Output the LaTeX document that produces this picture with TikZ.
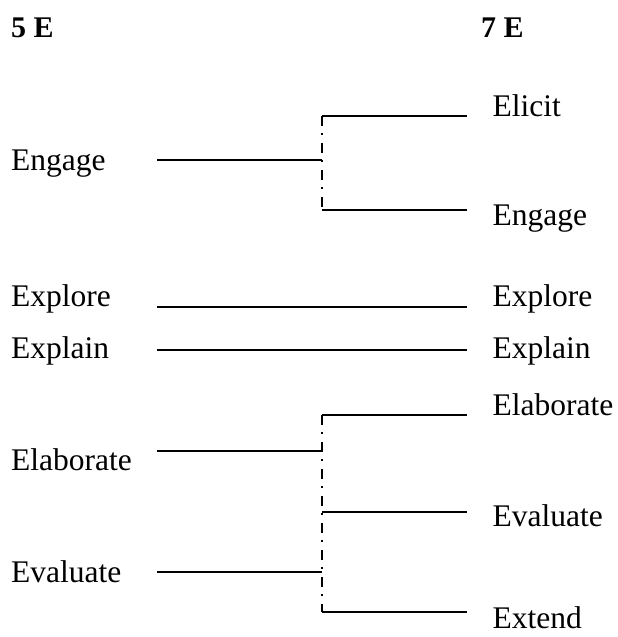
\documentclass[tikz,border=0pt]{standalone}
\usepackage{fontspec}
\setmainfont{Liberation Serif}
\begin{document}
\begin{tikzpicture}[x=1pt,y=1pt,
  lbl/.style={anchor=base west,inner sep=0pt,font=\fontsize{31.5}{37}\selectfont},
  head/.style={anchor=base west,inner sep=0pt,font=\fontsize{30}{35}\selectfont\bfseries},
  link/.style={line width=2pt},
  dd/.style={line width=2pt,dash pattern=on 10pt off 7pt on 2pt off 8pt}]
\useasboundingbox (0,0) rectangle (618,-637);
% headings
\node[head] (h5) at (11,-37) {5 E};
\node[head] (h7) at (481,-37) {7 E};
% left labels
\node[lbl] (lEngage) at (11,-170) {Engage};
\node[lbl] (lExplore) at (11,-306) {Explore};
\node[lbl] (lExplain) at (11,-358) {Explain};
\node[lbl] (lElaborate) at (11,-470) {Elaborate};
\node[lbl] (lEvaluate) at (11,-582) {Evaluate};
% right labels
\node[lbl] (rElicit) at (492.5,-116) {Elicit};
\node[lbl] (rEngage) at (492.5,-225) {Engage};
\node[lbl] (rExplore) at (492.5,-306) {Explore};
\node[lbl] (rExplain) at (492.5,-358) {Explain};
\node[lbl] (rElaborate) at (492.5,-415) {Elaborate};
\node[lbl] (rEvaluate) at (492.5,-526) {Evaluate};
\node[lbl] (rExtend) at (492.5,-628) {Extend};
% coordinates
\coordinate (a1) at (157,-160);
\coordinate (a2) at (322,-160);
\coordinate (v1t) at (322,-116);
\coordinate (v1b) at (322,-210);
\coordinate (b1) at (467,-116);
\coordinate (b2) at (467,-210);
\coordinate (e1) at (157,-307);
\coordinate (e2) at (467,-307);
\coordinate (x1) at (157,-350);
\coordinate (x2) at (467,-350);
\coordinate (c1) at (157,-451);
\coordinate (c2) at (322,-451);
\coordinate (d1) at (157,-572);
\coordinate (d2) at (322,-572);
\coordinate (v2t) at (322,-415);
\coordinate (v2m) at (322,-512);
\coordinate (v2b) at (322,-612);
\coordinate (f1) at (467,-415);
\coordinate (f2) at (467,-512);
\coordinate (f3) at (467,-612);
% connectors
\draw[link] (a1) -- (a2);
\draw[dd] (v1t) -- (v1b);
\draw[link] (v1t) -- (b1);
\draw[link] (v1b) -- (b2);
\draw[link] (e1) -- (e2);
\draw[link] (x1) -- (x2);
\draw[link] (c1) -- (c2);
\draw[link] (d1) -- (d2);
\draw[dd] (v2t) -- (v2b);
\draw[link] (v2t) -- (f1);
\draw[link] (v2m) -- (f2);
\draw[link] (v2b) -- (f3);
\end{tikzpicture}
\end{document}
